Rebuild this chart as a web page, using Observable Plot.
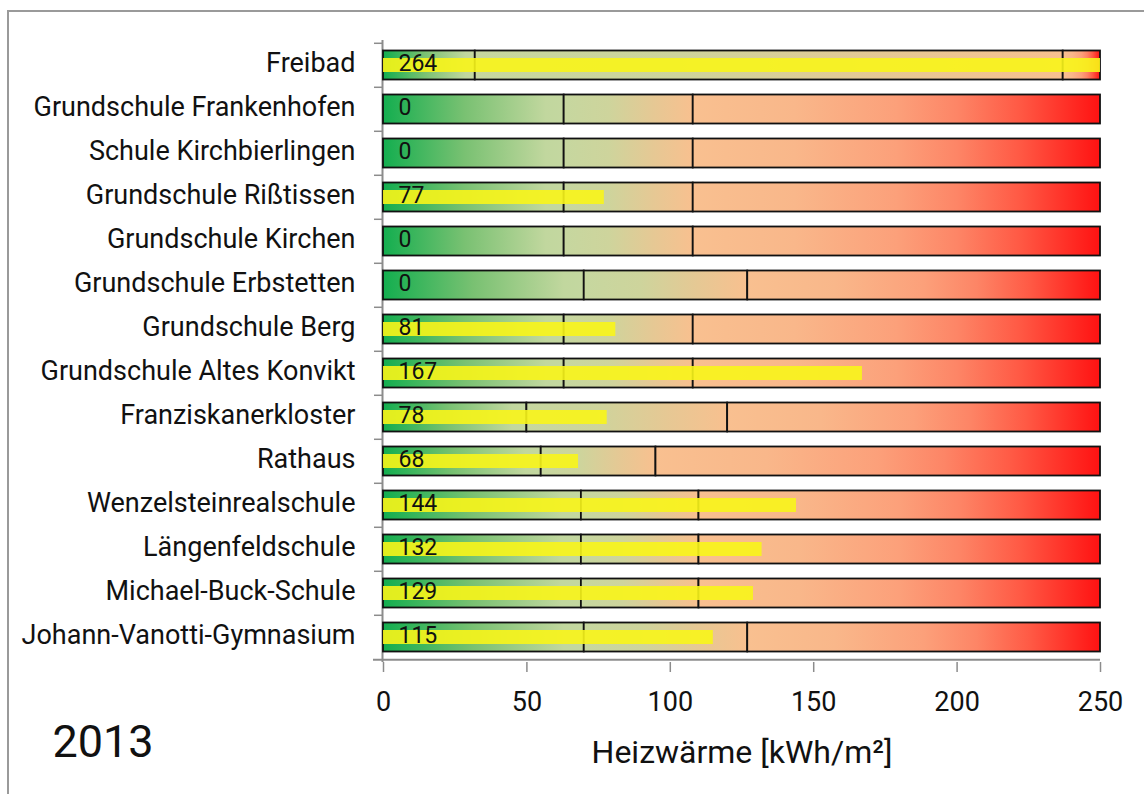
<!DOCTYPE html>
<html>
<head>
<meta charset="utf-8">
<script src="https://cdn.jsdelivr.net/npm/d3@7"></script>
<script src="https://cdn.jsdelivr.net/npm/@observablehq/plot@0.6"></script>
<style>
  html, body { margin: 0; padding: 0; background: #fff; }
  #wrap { position: relative; width: 1144px; height: 794px; overflow: hidden; }
  #border { position: absolute; left: 7px; top: 10px; width: 1160px; height: 820px;
            border: 2px solid #9a9a9a; box-sizing: border-box; }
  #chart { position: absolute; left: 0; top: 0; }
</style>
</head>
<body>
<div id="wrap">
  <div id="border"></div>
  <div id="chart"></div>
</div>
<script>
// Buildings, top to bottom
const names = [
  "Freibad",
  "Grundschule Frankenhofen",
  "Schule Kirchbierlingen",
  "Grundschule Rißtissen",
  "Grundschule Kirchen",
  "Grundschule Erbstetten",
  "Grundschule Berg",
  "Grundschule Altes Konvikt",
  "Franziskanerkloster",
  "Rathaus",
  "Wenzelsteinrealschule",
  "Längenfeldschule",
  "Michael-Buck-Schule",
  "Johann-Vanotti-Gymnasium"
];
// Heating energy 2013 [kWh/m²]
const values = [264, 0, 0, 77, 0, 0, 81, 167, 78, 68, 144, 132, 129, 115];
// Benchmark limits per building: good / average boundary and average / poor boundary
const lowLimit  = [32, 63, 63, 63, 63, 70, 63, 63, 50, 55, 69, 69, 69, 70];
const highLimit = [237, 108, 108, 108, 108, 127, 108, 108, 120, 95, 110, 110, 110, 127];
const scaleMax = 250;
const xTicks = [0, 50, 100, 150, 200, 250];
const year = "2013";
const xTitle = "Heizwärme [kWh/m²]";

const rows = names.map((name, i) => ({
  name, value: values[i], low: lowLimit[i], high: highLimit[i]
}));

const width = 1144, height = 794;
const marginTop = 40, marginBottom = 132, marginLeft = 383, marginRight = 44;
const step = (height - marginTop - marginBottom) / names.length;
const gray = "#8c8c8c";
const zoneStroke = { stroke: "#111", strokeWidth: 1.8, insetTop: 7.5, insetBottom: 7.5 };

const chart = Plot.plot({
  width, height, marginTop, marginBottom, marginLeft, marginRight,
  style: { fontFamily: "Roboto, sans-serif", color: "#111", background: "transparent", overflow: "visible" },
  x: { domain: [0, scaleMax] },
  y: { domain: names, padding: 0 },
  marks: [
    // axis lines
    Plot.ruleX([0], { stroke: gray, strokeWidth: 2, dx: -1 }),
    Plot.ruleY([names[names.length - 1]], { dy: step / 2, insetLeft: -10, stroke: gray, strokeWidth: 2 }),
    Plot.axisY({ tickSize: 9, dy: -step / 2, text: null, stroke: gray, strokeWidth: 1.5, label: null }),
    Plot.axisY({ tickSize: 0, tickPadding: 28, fontSize: 27, dy: -2.5, fill: "#111", label: null }),
    Plot.axisX({ ticks: xTicks, tickSize: 10, tickPadding: 19, fontSize: 27, stroke: gray, strokeWidth: 1.5, fill: "#111", label: null, tickFormat: d => String(d) }),
    // benchmark zones
    Plot.barX(rows, { y: "name", x1: 0, x2: "low", fill: "url(#zoneGood)", ...zoneStroke }),
    Plot.barX(rows, { y: "name", x1: "low", x2: "high", fill: "url(#zoneMid)", ...zoneStroke }),
    Plot.barX(rows, { y: "name", x1: "high", x2: scaleMax, fill: "url(#zonePoor)", ...zoneStroke }),
    // measured value
    Plot.barX(rows, { y: "name", x1: 0, x2: "value", fill: "#f8f51a", fillOpacity: 0.9, insetTop: 15, insetBottom: 15, clip: true }),
    Plot.text(rows, { y: "name", frameAnchor: "left", text: d => String(d.value), textAnchor: "start", dx: 15, dy: -1.5, fontSize: 23, fill: "#111" }),
    // axis title and year
    Plot.text([xTitle], { frameAnchor: "bottom", text: d => d, lineAnchor: "bottom", dy: 100, fontSize: 32, fill: "#111" }),
    Plot.text([year], { frameAnchor: "bottom-left", text: d => d, textAnchor: "start", lineAnchor: "bottom", dx: -331, dy: 94, fontSize: 45, fill: "#111" })
  ]
});

chart.insertAdjacentHTML("afterbegin", `
<defs>
  <linearGradient id="zoneGood" x1="0" x2="1" y1="0" y2="0">
    <stop offset="0" stop-color="#13ae4f"/>
    <stop offset="0.45" stop-color="#79c172"/>
    <stop offset="0.9" stop-color="#c1d79e"/>
    <stop offset="1" stop-color="#c4d7a0"/>
  </linearGradient>
  <linearGradient id="zoneMid" x1="0" x2="1" y1="0" y2="0">
    <stop offset="0" stop-color="#c6d79f"/>
    <stop offset="0.35" stop-color="#ced49c"/>
    <stop offset="0.7" stop-color="#e6c894"/>
    <stop offset="1" stop-color="#f8c08f"/>
  </linearGradient>
  <linearGradient id="zonePoor" x1="0" x2="1" y1="0" y2="0">
    <stop offset="0" stop-color="#f9c090"/>
    <stop offset="0.25" stop-color="#f9b78a"/>
    <stop offset="0.5" stop-color="#fca07a"/>
    <stop offset="0.65" stop-color="#fd8566"/>
    <stop offset="0.8" stop-color="#ff5a45"/>
    <stop offset="1" stop-color="#ff1212"/>
  </linearGradient>
</defs>`);

document.getElementById("chart").appendChild(chart);
</script>
</body>
</html>
